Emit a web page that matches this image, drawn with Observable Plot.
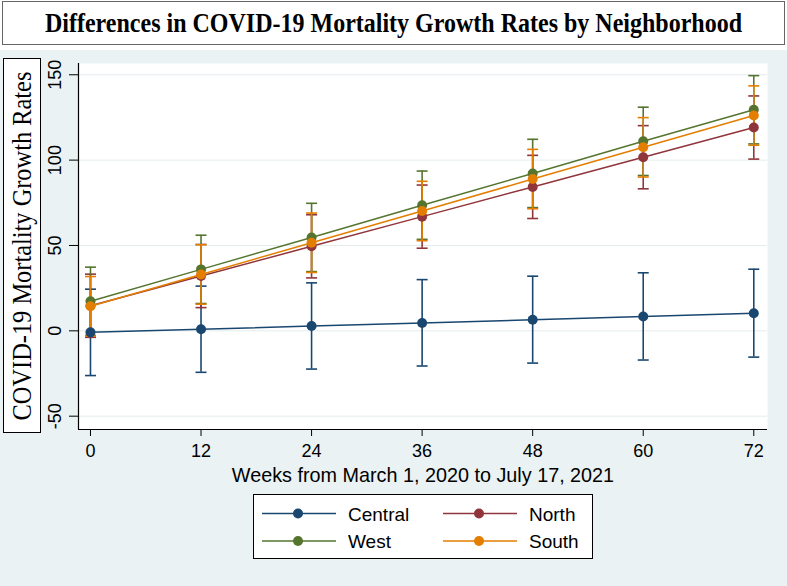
<!DOCTYPE html>
<html>
<head>
<meta charset="utf-8">
<script src="https://cdn.jsdelivr.net/npm/d3@7"></script>
<script src="https://cdn.jsdelivr.net/npm/@observablehq/plot@0.6"></script>
<style>
  html, body { margin: 0; padding: 0; }
  body { width: 787px; height: 586px; position: relative; overflow: hidden; background: #ffffff;
         font-family: "Liberation Sans", Arial, Helvetica, sans-serif; }
  #bg { position: absolute; left: 0; top: 50px; width: 787px; height: 536px; background: #eaf2f3; }
  #title { position: absolute; left: 2px; top: 1px; width: 783px; height: 44px; box-sizing: border-box;
           border: 1px solid #666; background: #fff; text-align: center; line-height: 42px;
           font-family: "Liberation Serif", "Times New Roman", serif; font-weight: bold; font-size: 24px; color: #000; }
  #title span { display: inline-block; transform: scale(1, 1.15); }
  #ylab { position: absolute; left: 3px; top: 58px; width: 38px; height: 375px; box-sizing: border-box;
          border: 1px solid #000; background: #fff; }
  #ylab span { position: absolute; left: 50%; top: 50%; transform: translate(-50%, -50%) rotate(-90deg) scaleY(1.12);
               white-space: nowrap; font-family: "Liberation Serif", "Times New Roman", serif; font-size: 24.4px; color: #000; }
  #chart { position: absolute; left: 40px; top: 48px; }
  #legend { position: absolute; left: 253px; top: 494px; width: 340px; height: 65px; box-sizing: border-box;
            border: 1px solid #000; background: #fff; }
</style>
</head>
<body>
<div id="bg"></div>
<div id="title"><span>Differences in COVID-19 Mortality Growth Rates by Neighborhood</span></div>
<div id="ylab"><span>COVID-19 Mortality Growth Rates</span></div>
<div id="chart"></div>
<div id="legend"></div>
<script>
// ---- data ----
const weeks = [0, 12, 24, 36, 48, 60, 72];
const seriesNames = ["Central", "North", "West", "South"];
const seriesColors = ["#1a476f", "#90353b", "#55752f", "#e37e00"];

const central   = [-0.9, 0.9, 2.8, 4.6, 6.5, 8.4, 10.3];
const centralLo = [-26.2, -24.3, -22.4, -20.6, -18.9, -17.1, -15.4];
const centralHi = [24.4, 26.2, 28.1, 30.0, 32.0, 34.0, 36.1];

const north   = [14.7, 32.1, 49.5, 66.9, 84.3, 101.7, 119.1];
const northLo = [-3.8, 13.6, 31.0, 48.4, 65.8, 83.2, 100.6];
const northHi = [33.2, 50.6, 68.0, 85.4, 102.8, 120.2, 137.6];

const west   = [17.3, 36.0, 54.7, 73.6, 92.2, 111.0, 129.5];
const westLo = [-2.7, 16.0, 34.7, 53.6, 72.2, 91.0, 109.5];
const westHi = [37.3, 56.0, 74.7, 93.6, 112.2, 131.0, 149.5];

const south   = [14.4, 33.0, 51.6, 70.2, 88.9, 107.5, 126.1];
const southLo = [-3.0, 15.6, 34.2, 52.8, 71.5, 90.1, 108.7];
const southHi = [31.8, 50.4, 69.0, 87.6, 106.3, 124.9, 143.5];

const xTicks = [0, 12, 24, 36, 48, 60, 72];
const yTicks = [-50, 0, 50, 100, 150];
const yTickLabels = ["-50", "0", "50", "100", "150"];
const xDomain = [-1.30, 73.49];
const yDomain = [-57.8, 156.6];
const xTitle = "Weeks from March 1, 2020 to July 17, 2021";

// ---- build table ----
const seriesValues = [
  [central, centralLo, centralHi],
  [north, northLo, northHi],
  [west, westLo, westHi],
  [south, southLo, southHi]
];
const rows = [];
seriesNames.forEach((name, s) => {
  weeks.forEach((w, i) => {
    rows.push({series: name, week: w, y: seriesValues[s][0][i], lo: seriesValues[s][1][i], hi: seriesValues[s][2][i]});
  });
});

const capSymbol = {
  draw(context) { context.moveTo(-5.5, 0); context.lineTo(5.5, 0); }
};

const color = {domain: seriesNames, range: seriesColors};

const marks = [
  Plot.frame({fill: "#ffffff", stroke: null}),
  Plot.gridY(yTicks, {stroke: "#e4ecee", strokeOpacity: 1, strokeWidth: 1})
];
// confidence intervals first (all series), then connected lines
seriesNames.forEach(name => {
  const d = rows.filter(r => r.series === name);
  marks.push(
    Plot.ruleX(d, {x: "week", y1: "lo", y2: "hi", stroke: "series", strokeWidth: 1.6}),
    Plot.dot(d, {x: "week", y: "lo", symbol: capSymbol, stroke: "series", strokeWidth: 1.6, fill: "none"}),
    Plot.dot(d, {x: "week", y: "hi", symbol: capSymbol, stroke: "series", strokeWidth: 1.6, fill: "none"})
  );
});
seriesNames.forEach(name => {
  const d = rows.filter(r => r.series === name);
  marks.push(
    Plot.line(d, {x: "week", y: "y", stroke: "series", strokeWidth: 1.5}),
    Plot.dot(d, {x: "week", y: "y", fill: "series", r: 5, stroke: "none"})
  );
});
marks.push(
  Plot.ruleX([xDomain[0]], {stroke: "#000", strokeWidth: 1.2}),
  Plot.ruleY([yDomain[0]], {stroke: "#000", strokeWidth: 1.2}),
  Plot.axisX({ticks: xTicks, tickSize: 7, tickPadding: 8, fontSize: 18, label: null, stroke: "#000", strokeWidth: 1}),
  Plot.axisY({ticks: yTicks, tickSize: 9, tickFormat: () => "", label: null, stroke: "#000", strokeWidth: 1}),
  Plot.text(yTicks, {y: d => d, text: (d, i) => yTickLabels[i], frameAnchor: "left", dx: -18,
                     rotate: -90, lineAnchor: "bottom", textAnchor: "middle", fontSize: 18, fill: "#000"}),
  Plot.text([xTitle], {text: d => d, frameAnchor: "bottom", dy: 52, lineAnchor: "bottom", fontSize: 19.8, fill: "#000"})
);

const chart = Plot.plot({
  width: 747,
  height: 440,
  marginLeft: 38,
  marginRight: 20,
  marginTop: 15,
  marginBottom: 59,
  x: {domain: xDomain},
  y: {domain: yDomain},
  color,
  style: {background: "transparent", fontFamily: "'Liberation Sans', Arial, sans-serif", fontSize: "18px", color: "#000", overflow: "visible"},
  marks
});
document.getElementById("chart").appendChild(chart);

// ---- legend ----
const legendItems = [
  {name: "Central", col: 0, row: 0},
  {name: "North", col: 1, row: 0},
  {name: "West", col: 0, row: 1},
  {name: "South", col: 1, row: 1}
];
const ns = "http://www.w3.org/2000/svg";
const lsvg = document.createElementNS(ns, "svg");
lsvg.setAttribute("width", 338);
lsvg.setAttribute("height", 63);
lsvg.style.position = "absolute";
lsvg.style.left = "0px";
lsvg.style.top = "0px";
legendItems.forEach(it => {
  const c = seriesColors[seriesNames.indexOf(it.name)];
  const x0 = it.col === 0 ? 8 : 189;
  const y0 = it.row === 0 ? 18.5 : 46;
  const line = document.createElementNS(ns, "line");
  line.setAttribute("x1", x0); line.setAttribute("x2", x0 + 74);
  line.setAttribute("y1", y0); line.setAttribute("y2", y0);
  line.setAttribute("stroke", c); line.setAttribute("stroke-width", 1.4);
  lsvg.appendChild(line);
  const dot = document.createElementNS(ns, "circle");
  dot.setAttribute("cx", x0 + 36); dot.setAttribute("cy", y0); dot.setAttribute("r", 5);
  dot.setAttribute("fill", c);
  lsvg.appendChild(dot);
  const t = document.createElementNS(ns, "text");
  t.setAttribute("x", x0 + 86); t.setAttribute("y", y0 + 7);
  t.setAttribute("font-size", "19px");
  t.setAttribute("font-family", "'Liberation Sans', Arial, sans-serif");
  t.setAttribute("fill", "#000");
  t.textContent = it.name;
  lsvg.appendChild(t);
});
document.getElementById("legend").appendChild(lsvg);
</script>
</body>
</html>
